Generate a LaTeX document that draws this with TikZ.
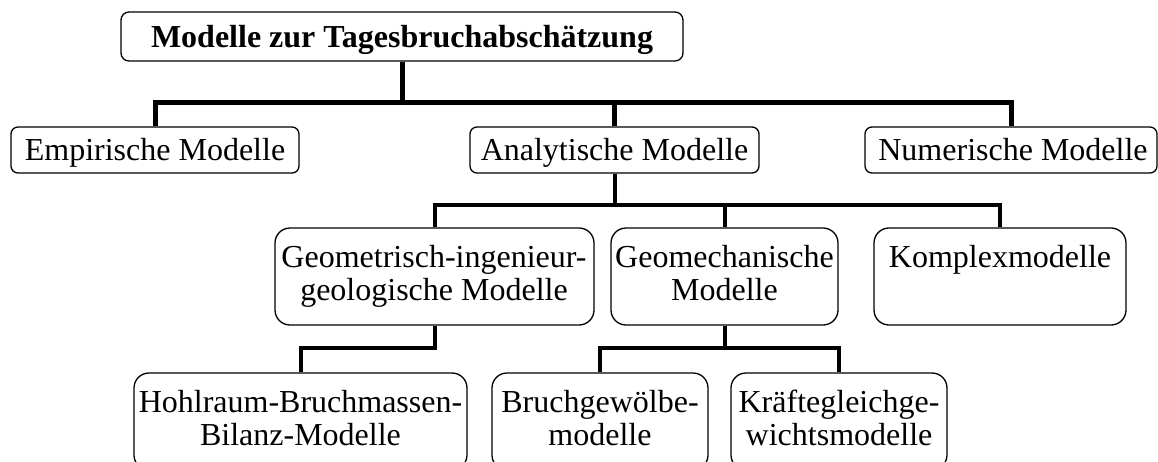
\documentclass[tikz,border=0pt]{standalone}
\usepackage{fontspec}
\setmainfont{Liberation Serif}
\begin{document}
\begin{tikzpicture}[x=1pt,y=-1pt,
  box/.style={draw, line width=1.3pt, inner sep=0pt},
  boxA/.style={box, rounded corners=8pt},
  boxB/.style={box, rounded corners=7pt, minimum height=46pt},
  boxC/.style={box, rounded corners=15pt, minimum height=97pt},
  txt/.style={anchor=base, inner sep=0pt, font=\fontsize{32}{34}\selectfont},
  busA/.style={line width=5pt},
  busB/.style={line width=4pt},
  busC/.style={line width=4pt}]
\useasboundingbox (0,0) rectangle (1158,461);

% boxes
\node[boxA, minimum width=562pt, minimum height=49pt] (top) at (402,36.5) {};
\node[boxB, minimum width=288pt] (emp) at (155,150) {};
\node[boxB, minimum width=289pt] (ana) at (614.5,150) {};
\node[boxB, minimum width=292pt] (num) at (1011,150) {};
\node[boxC, minimum width=319pt] (geo) at (434.5,276.5) {};
\node[boxC, minimum width=227pt] (mech) at (724.5,276.5) {};
\node[boxC, minimum width=252pt] (kom) at (1000,276.5) {};
\node[boxC, minimum width=333pt] (hoh) at (300.5,421.5) {};
\node[boxC, minimum width=216pt] (bru) at (600,421.5) {};
\node[boxC, minimum width=216pt] (kra) at (839,421.5) {};

% texts
\node[txt, font=\fontsize{32}{34}\selectfont\bfseries] (ttop) at (402,47) {Modelle zur Tagesbruchabschätzung};
\node[txt] (temp) at (155,160) {Empirische Modelle};
\node[txt] (tana) at (614.5,160) {Analytische Modelle};
\node[txt] (tnum) at (1013,160) {Numerische Modelle};
\node[txt] (tgeo1) at (434,267) {Geometrisch-ingenieur-};
\node[txt] (tgeo2) at (434,300) {geologische Modelle};
\node[txt] (tmech1) at (724.5,267) {Geomechanische};
\node[txt] (tmech2) at (724.5,300) {Modelle};
\node[txt] (tkom) at (1000,267) {Komplexmodelle};
\node[txt] (thoh1) at (300.5,412) {Hohlraum-Bruchmassen-};
\node[txt] (thoh2) at (300.5,445) {Bilanz-Modelle};
\node[txt] (tbr1) at (600,412) {Bruchgewölbe-};
\node[txt] (tbr2) at (600,445) {modelle};
\node[txt] (tkr1) at (839,412) {Kräftegleichge-};
\node[txt] (tkr2) at (839,445) {wichtsmodelle};

% bus levels
\coordinate (bus1) at (0,102);
\coordinate (bus2) at (0,205);
\coordinate (bus3) at (0,348);

% connectors
\draw[busA] (top.south) -- (top.south |- bus1);
\draw[busA] (emp.north) |- (num.north |- bus1) -- (num.north);
\draw[busA] (ana.north) -- (ana.north |- bus1);

\draw[busB] (ana.south) -- (ana.south |- bus2);
\draw[busB] (geo.north) |- (kom.north |- bus2) -- (kom.north);
\draw[busB] (mech.north) -- (mech.north |- bus2);

\draw[busC] (geo.south) -- (geo.south |- bus3) -| (hoh.north);
\draw[busC] (mech.south) -- (mech.south |- bus3);
\draw[busC] (bru.north) |- (kra.north |- bus3) -- (kra.north);
\end{tikzpicture}
\end{document}
